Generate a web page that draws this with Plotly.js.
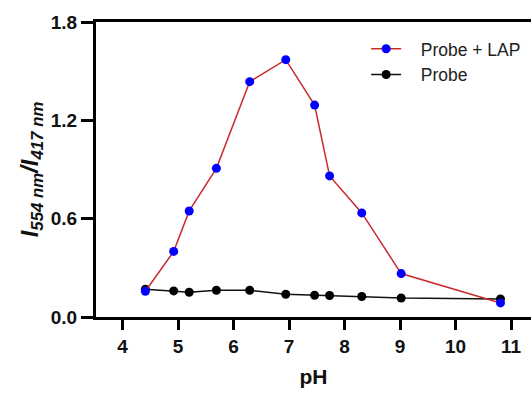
<!DOCTYPE html>
<html>
<head>
<meta charset="utf-8">
<script src="https://cdn.plot.ly/plotly-3.0.1.min.js"></script>
<style>html,body{margin:0;padding:0;background:#fff;}#chart{width:531px;height:396px;}</style>
</head>
<body>
<div id="chart"></div>
<script>
const phLAP = [4.41, 4.92, 5.20, 5.69, 6.29, 6.94, 7.46, 7.73, 8.31, 9.02, 10.81];
const ratioLAP = [0.157, 0.40, 0.647, 0.907, 1.436, 1.570, 1.293, 0.861, 0.635, 0.265, 0.086];
const phProbe = [4.41, 4.92, 5.20, 5.69, 6.29, 6.94, 7.46, 7.73, 8.31, 9.02, 10.81];
const ratioProbe = [0.169, 0.159, 0.151, 0.163, 0.163, 0.139, 0.133, 0.131, 0.125, 0.116, 0.110];
const seriesNames = ["Probe + LAP", "Probe"];
const xTicks = [4, 5, 6, 7, 8, 9, 10, 11];
const yTicks = [0.0, 0.6, 1.2, 1.8];
const yTickLabels = ["0.0", "0.6", "1.2", "1.8"];

const font = "Liberation Sans, Arial, sans-serif";
const pad = "\u00a0\u00a0\u00a0";

const traces = [
  {
    x: phProbe, y: ratioProbe, name: pad + seriesNames[1], type: "scatter", mode: "lines+markers",
    line: {color: "#111111", width: 1.5},
    marker: {color: "#000000", size: 9}
  },
  {
    x: phLAP, y: ratioLAP, name: pad + seriesNames[0], type: "scatter", mode: "lines+markers",
    line: {color: "#cc2a2a", width: 1.5},
    marker: {color: "#0000ff", size: 9}
  }
];

const layout = {
  width: 531, height: 396,
  margin: {l: 96, r: 0, t: 22, b: 79},
  paper_bgcolor: "#ffffff", plot_bgcolor: "#ffffff",
  font: {family: font, color: "#111"},
  showlegend: true,
  legend: {
    x: 0.621, y: 0.97, xanchor: "left", yanchor: "top",
    traceorder: "reversed", bgcolor: "rgba(0,0,0,0)",
    font: {family: font, size: 17.5, color: "#222"},
    itemwidth: 30, tracegroupgap: 0
  },
  xaxis: {
    range: [3.52, 11.36],
    tickvals: xTicks,
    ticks: "outside", ticklen: 10, tickwidth: 3, tickcolor: "#000",
    showline: true, linewidth: 3, linecolor: "#000", mirror: true,
    showgrid: false, zeroline: false,
    tickfont: {family: font, size: 19, color: "#111", weight: "bold"},
    title: {text: "pH", font: {family: font, size: 21, color: "#111", weight: "bold"}, standoff: 14}
  },
  yaxis: {
    range: [0, 1.8],
    tickvals: yTicks, ticktext: yTickLabels,
    ticks: "outside", ticklen: 12, tickwidth: 3, tickcolor: "#000",
    showline: true, linewidth: 3, linecolor: "#000",
    showgrid: false, zeroline: false,
    tickfont: {family: font, size: 19, color: "#111", weight: "bold"},
    title: {
      text: "I<sub>554 nm</sub>/I<sub>417 nm</sub>",
      font: {family: font, size: 24, color: "#111", weight: "bold", style: "italic"},
      standoff: 6
    }
  }
};

Plotly.newPlot("chart", traces, layout, {displayModeBar: false, staticPlot: true});
</script>
</body>
</html>
